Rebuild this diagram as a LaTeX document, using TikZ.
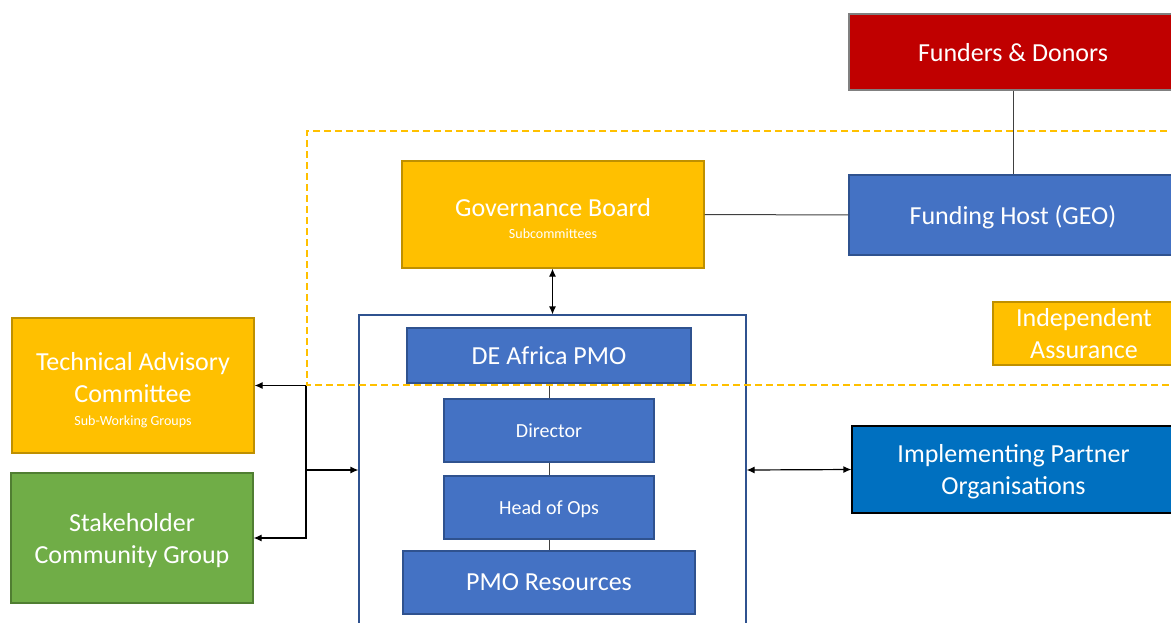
\documentclass[tikz,border=0pt]{standalone}
\usepackage{fontspec}
\setmainfont{Carlito}
\usepackage{xcolor}
\usetikzlibrary{arrows.meta}
\definecolor{gold}{HTML}{FFC000}
\definecolor{goldline}{HTML}{BF9000}
\definecolor{blueone}{HTML}{4472C4}
\definecolor{blueline}{HTML}{2F528F}
\definecolor{bluetwo}{HTML}{0070C0}
\definecolor{redone}{HTML}{C00000}
\definecolor{greenone}{HTML}{70AD47}
\definecolor{greenline}{HTML}{507E32}
\newcommand{\bigtxt}{\fontsize{13}{16}\selectfont}
\newcommand{\smalltxt}{\fontsize{7}{9}\selectfont}
\tikzset{
  box/.style = {draw, line width=0.6pt, text=white, align=center, inner sep=0pt, text depth=0pt, font=\bigtxt},
  yellowbox/.style = {box, fill=gold, draw=goldline},
  bluebox/.style = {box, fill=blueone, draw=blueline},
  link/.style = {draw=black!75, line width=0.5pt},
  arr/.style = {line width=0.6pt, {Latex[length=4pt,width=3.5pt]}-{Latex[length=4pt,width=3.5pt]}}
}

\begin{document}
\begin{tikzpicture}[x=0.5pt, y=-0.5pt]
       \useasboundingbox (0,0) rectangle (1171,622);
       \node [box, fill=redone, draw=black!50, minimum width=164pt, minimum height=38pt] (donors) at (1013,52) {Funders \& Donors};
       \node [bluebox, minimum width=164pt, minimum height=40pt] (host) at (1013,215) {Funding Host (GEO)};
       \node [yellowbox, minimum width=151pt, minimum height=53.5pt] (board) at (553,214.5) {\rule{0pt}{13pt}Governance Board\\[-5pt]{\smalltxt Subcommittees}};
       \node [yellowbox, minimum width=91pt, minimum height=31.5pt] (assur) at (1084,333.5) {Independent\\Assurance};
       \node [draw=blueline, line width=0.6pt, minimum width=193.5pt, minimum height=155pt] (pmo) at (552.5,470) {};
       \node [bluebox, minimum width=142pt, minimum height=27.5pt] (deafrica) at (549,355.5) {DE Africa PMO};
       \node [bluebox, font=\fontsize{10}{12}\selectfont, minimum width=105pt, minimum height=31.5pt] (director) at (549,430.5) {Director};
       \node [bluebox, font=\fontsize{10}{12}\selectfont, minimum width=105pt, minimum height=31.5pt] (headops) at (549,507.5) {Head of Ops};
       \node [bluebox, minimum width=146pt, minimum height=31.5pt] (resources) at (549,582.5) {PMO Resources};
       \node [yellowbox, minimum width=121pt, minimum height=67.5pt] (tac) at (133,385.5) {\rule{0pt}{12pt}Technical Advisory\\Committee\\[-4.5pt]{\smalltxt Sub-Working Groups}};
       \node [box, fill=greenone, draw=greenline, minimum width=121pt, minimum height=65pt] (stake) at (132,538) {Stakeholder\\Community Group};
       \node [box, fill=bluetwo, draw=black, minimum width=161.5pt, minimum height=43.5pt] (partner) at (1013.5,469.5) {Implementing Partner\\Organisations};
       \coordinate (split) at (306,470);
       \draw [link] (donors) -- (host);
       \draw [link] (board) -- (host);
       \draw [link] (deafrica) -- (director);
       \draw [link] (director) -- (headops);
       \draw [link] (headops) -- (resources);
       \draw [arr] (board.south -| pmo.north) -- (pmo.north);
       \draw [arr] (pmo.east) -- (partner.west);
       \draw [line width=0.6pt, -{Latex[length=4pt,width=3.5pt]}] (split) -- (pmo.west);
       \draw [line width=0.6pt, -{Latex[length=4pt,width=3.5pt]}] (split) |- (tac.east);
       \draw [line width=0.6pt, -{Latex[length=4pt,width=3.5pt]}] (split) |- (stake.east);
       \draw [gold, line width=1pt, dash pattern=on 3.5pt off 2pt] (1200,131) -- (307,131) -- (307,385) -- (1200,385);
   \end{tikzpicture}
\end{document}
